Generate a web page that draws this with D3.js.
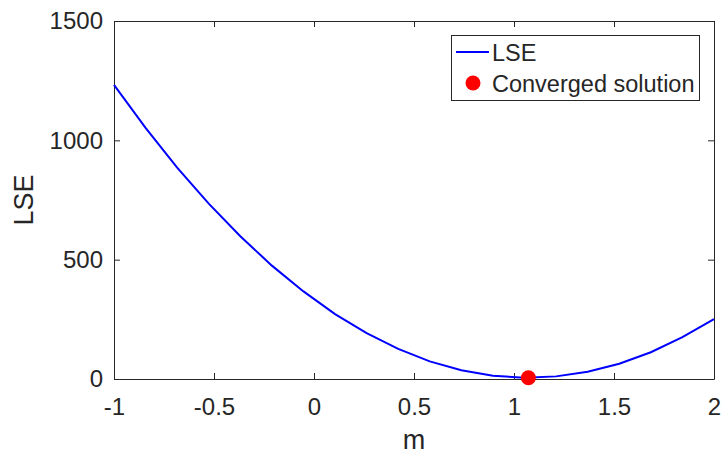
<!DOCTYPE html>
<html>
<head>
<meta charset="utf-8">
<script src="https://cdn.jsdelivr.net/npm/d3@7"></script>
<style>
  body { margin: 0; background: #fff; }
  svg text { font-family: "Liberation Sans", Arial, sans-serif; fill: #262626; }
</style>
</head>
<body>
<div class="d3_content"></div>
<script>
// data
var m_values = [-1.0000, -0.8421, -0.6842, -0.5263, -0.3684, -0.2105, -0.0526, 0.1053, 0.2632, 0.4211,
                0.5789, 0.7368, 0.8947, 1.0526, 1.2105, 1.3684, 1.5263, 1.6842, 1.8421, 2.0000];
var lse_values = [1232, 1052, 886, 735, 598, 475, 367, 272, 192, 126,
                  74, 37, 14, 5, 11, 30, 64, 112, 175, 251];
var solution_m = [1.072];
var solution_lse = [5];
var x_ticks = [-1, -0.5, 0, 0.5, 1, 1.5, 2];
var x_tick_labels = ["-1", "-0.5", "0", "0.5", "1", "1.5", "2"];
var y_ticks = [0, 500, 1000, 1500];
var y_tick_labels = ["0", "500", "1000", "1500"];
var legend_labels = ["LSE", "Converged solution"];

var frame = { width: 721, height: 454, left: 114, right: 714, top: 21, bottom: 379 };

var svg = d3.select(".d3_content").append("svg")
  .attr("width", frame.width)
  .attr("height", frame.height);

var x = d3.scaleLinear().domain([-1, 2]).range([frame.left, frame.right]);
var y = d3.scaleLinear().domain([0, 1500]).range([frame.bottom, frame.top]);

var axis_color = "#262626";

// bottom axis
var gx = svg.append("g")
  .attr("transform", `translate(0, ${frame.bottom})`)
  .call(d3.axisBottom(x).tickValues(x_ticks).tickSizeInner(-6).tickSizeOuter(0).tickPadding(19)
    .tickFormat((d, i) => x_tick_labels[i]));
// left axis
var gy = svg.append("g")
  .attr("transform", `translate(${frame.left}, 0)`)
  .call(d3.axisLeft(y).tickValues(y_ticks).tickSizeInner(-6).tickSizeOuter(0).tickPadding(11)
    .tickFormat((d, i) => y_tick_labels[i]));
// top + right (box with ticks)
var gt = svg.append("g")
  .attr("transform", `translate(0, ${frame.top})`)
  .call(d3.axisTop(x).tickValues(x_ticks).tickSizeInner(-6).tickSizeOuter(0).tickFormat(""));
var gr = svg.append("g")
  .attr("transform", `translate(${frame.right}, 0)`)
  .call(d3.axisRight(y).tickValues(y_ticks).tickSizeInner(-6).tickSizeOuter(0).tickFormat(""));

[gx, gy, gt, gr].forEach(g => {
  g.selectAll("path").attr("stroke", axis_color).attr("stroke-width", 1);
  g.selectAll("line").attr("stroke", axis_color).attr("stroke-width", 1);
  g.selectAll("text").style("font-size", "24px").attr("fill", axis_color);
});

// LSE curve
var line = d3.line()
  .x((d, i) => x(m_values[i]))
  .y(d => y(d));

svg.append("path")
  .datum(lse_values)
  .attr("d", line)
  .attr("fill", "none")
  .attr("stroke", "#0000ff")
  .attr("stroke-width", 2);

// converged solution
svg.append("g").selectAll("circle")
  .data(solution_m)
  .join("circle")
  .attr("cx", d => x(d))
  .attr("cy", (d, i) => y(solution_lse[i]))
  .attr("r", 7.5)
  .attr("fill", "#ff0000");

// axis labels
svg.append("text").text("m")
  .attr("x", (frame.left + frame.right) / 2)
  .attr("y", 449)
  .attr("text-anchor", "middle")
  .style("font-size", "27px");

svg.append("text").text("LSE")
  .attr("transform", `translate(33, ${(frame.top + frame.bottom) / 2}) rotate(-90)`)
  .attr("text-anchor", "middle")
  .style("font-size", "27px");

// legend
var legend = svg.append("g");
legend.append("rect")
  .attr("x", 451.5).attr("y", 35.5)
  .attr("width", 248).attr("height", 65)
  .attr("fill", "#fff")
  .attr("stroke", axis_color)
  .attr("stroke-width", 1);
legend.append("line")
  .attr("x1", 456).attr("x2", 489)
  .attr("y1", 52).attr("y2", 52)
  .attr("stroke", "#0000ff").attr("stroke-width", 2);
legend.append("circle")
  .attr("cx", 473).attr("cy", 83).attr("r", 7.5)
  .attr("fill", "#ff0000");
legend.selectAll(".legend_text")
  .data(legend_labels)
  .join("text")
  .attr("class", "legend_text")
  .attr("x", 492)
  .attr("y", (d, i) => 61 + i * 31)
  .text(d => d)
  .style("font-size", "23.5px")
  .attr("fill", "#000");
</script>
</body>
</html>
